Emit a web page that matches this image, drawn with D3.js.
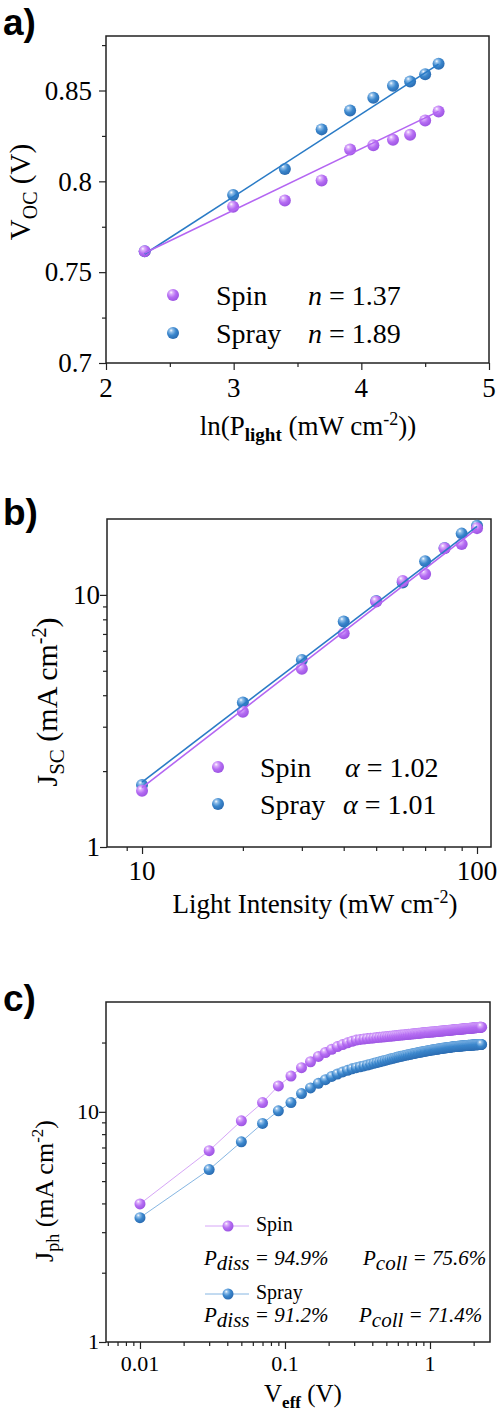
<!DOCTYPE html>
<html><head><meta charset="utf-8">
<script src="https://cdn.jsdelivr.net/npm/d3@7"></script>
<style>
body{margin:0;background:#fff}
svg{display:block}
text{font-family:"Liberation Serif","Times New Roman",serif;fill:#000;white-space:pre}
</style>
</head><body>
<svg id="chart" width="500" height="1415"></svg>
<script>
// ---------- Panel a data ----------
const aLnP = [2.303, 2.996, 3.401, 3.689, 3.912, 4.094, 4.248, 4.382, 4.500, 4.605];
const aSpinVoc = [0.7615, 0.786, 0.7895, 0.8005, 0.8175, 0.8198, 0.8229, 0.8257, 0.8335, 0.8385];
const aSprayVoc = [0.7615, 0.7925, 0.8068, 0.8286, 0.839, 0.846, 0.8526, 0.855, 0.859, 0.8647];
const aSpinFit = [[2.303, 0.7605], [4.605, 0.8385]];
const aSprayFit = [[2.303, 0.7600], [4.605, 0.8645]];
const aXTicks = [2, 3, 4, 5];
const aXMinor = [2.5, 3.5, 4.5];
const aYTicks = [0.7, 0.75, 0.8, 0.85];
const aYMinor = [0.725, 0.775, 0.825, 0.875];
const aLegend = [["Spin", "1.37"], ["Spray", "1.89"]];

// ---------- Panel b data ----------
const bLight = [10, 20, 30, 40, 50, 60, 70, 80, 90, 100];
const bSpinJsc = [1.67, 3.44, 5.09, 7.05, 9.41, 11.36, 12.1, 15.3, 15.9, 18.4];
const bSprayJsc = [1.76, 3.74, 5.52, 7.84, 9.45, 11.2, 13.6, 15.35, 17.5, 18.8];
const bSpinFit = [[10, 1.72], [100, 18.3]];
const bSprayFit = [[10, 1.81], [100, 18.7]];
const bXTicks = [10, 100];
const bXMinor = [9, 20, 30, 40, 50, 60, 70, 80, 90];
const bYTicks = [1, 10];
const bYMinor = [2, 3, 4, 5, 6, 7, 8, 9];
const bLegend = [["Spin", "1.02"], ["Spray", "1.01"]];

// ---------- Panel c data ----------
const cVeff = [0.01,0.03,0.05,0.07,0.09,0.11,0.13,0.15,0.17,0.19,
0.21,0.23,0.25,0.27,0.29,0.31,0.33,0.35,0.37,0.39,
0.41,0.43,0.45,0.47,0.49,0.51,0.53,0.55,0.57,0.59,
0.61,0.63,0.65,0.67,0.69,0.71,0.73,0.75,0.77,0.79,
0.81,0.83,0.85,0.87,0.89,0.91,0.93,0.95,0.97,0.99,
1.01,1.03,1.05,1.07,1.09,1.11,1.13,1.15,1.17,1.19,
1.21,1.23,1.25,1.27,1.29,1.31,1.33,1.35,1.37,1.39,
1.41,1.43,1.45,1.47,1.49,1.51,1.53,1.55,1.57,1.59,
1.61,1.63,1.65,1.67,1.69,1.71,1.73,1.75,1.77,1.79,
1.81,1.83,1.85,1.87,1.89,1.91,1.93,1.95,1.97,1.99,
2.01,2.03,2.05,2.07,2.09,2.11,2.13,2.15,2.17,2.19,
2.21,2.23,2.25,2.27];
const cSpinJph = [3.98,6.78,9.14,10.97,12.96,14.3,15.55,16.5,17.4,18.1,
18.7,19.2,19.6,19.95,20.25,20.5,20.62,20.72,20.80,20.87,
20.95,21.01,21.07,21.13,21.19,21.25,21.30,21.35,21.40,21.45,
21.50,21.54,21.58,21.63,21.67,21.71,21.75,21.78,21.82,21.85,
21.89,21.92,21.96,21.99,22.03,22.06,22.09,22.12,22.14,22.17,
22.20,22.22,22.25,22.27,22.30,22.32,22.35,22.37,22.40,22.42,
22.45,22.47,22.49,22.51,22.53,22.55,22.58,22.60,22.62,22.64,
22.66,22.68,22.70,22.72,22.74,22.76,22.77,22.79,22.81,22.83,
22.85,22.87,22.88,22.90,22.91,22.93,22.95,22.96,22.98,22.99,
23.01,23.02,23.04,23.05,23.07,23.08,23.10,23.11,23.13,23.14,
23.16,23.17,23.19,23.20,23.21,23.23,23.24,23.25,23.26,23.28,
23.29,23.30,23.32,23.33];
const cSprayJph = [3.47,5.61,7.41,8.90,10.1,10.97,12.0,12.7,13.3,13.8,
14.25,14.6,14.9,15.15,15.37,15.55,15.69,15.83,15.97,16.11,
16.25,16.37,16.49,16.61,16.73,16.85,16.95,17.05,17.15,17.25,
17.35,17.42,17.50,17.57,17.65,17.72,17.78,17.84,17.91,17.97,
18.03,18.08,18.14,18.19,18.25,18.30,18.35,18.39,18.44,18.48,
18.53,18.56,18.60,18.63,18.67,18.70,18.74,18.77,18.81,18.84,
18.88,18.90,18.93,18.95,18.98,19.00,19.03,19.05,19.08,19.10,
19.13,19.15,19.16,19.18,19.20,19.21,19.23,19.25,19.26,19.28,
19.30,19.31,19.33,19.34,19.35,19.37,19.38,19.39,19.40,19.42,
19.43,19.44,19.45,19.46,19.47,19.48,19.49,19.50,19.51,19.52,
19.53,19.54,19.54,19.55,19.56,19.57,19.57,19.58,19.59,19.59,
19.60,19.61,19.61,19.62];
const cXTicks = [0.01, 0.1, 1];
const cXMinor = [0.006,0.007,0.008,0.009,0.02,0.03,0.04,0.05,0.06,0.07,0.08,0.09,0.2,0.3,0.4,0.5,0.6,0.7,0.8,0.9,2];
const cYTicks = [1, 10];
const cYMinor = [2,3,4,5,6,7,8,9,20];
const cLegend = [["Spin", "94.9%", "75.6%"], ["Spray", "91.2%", "71.4%"]];

// ---------- setup ----------
const svg = d3.select("#chart");
const defs = svg.append("defs");
function grad(id, light, base, dark) {
  const g = defs.append("radialGradient").attr("id", id)
    .attr("cx", "40%").attr("cy", "36%").attr("r", "68%")
    .attr("fx", "34%").attr("fy", "28%");
  g.append("stop").attr("offset", "0%").attr("stop-color", "#ffffff");
  g.append("stop").attr("offset", "20%").attr("stop-color", light);
  g.append("stop").attr("offset", "55%").attr("stop-color", base);
  g.append("stop").attr("offset", "100%").attr("stop-color", dark);
}
grad("gSpin", "#dcb0fb", "#b56cf3", "#9a52e0");
grad("gSpray", "#93c0ea", "#3b87cd", "#2868ae");
const SPIN_LINE = "#b466f2", SPRAY_LINE = "#2a7bc6";
const SPIN_THIN = "#d6a6f7", SPRAY_THIN = "#86b6e2";

function axes(x, y, o) {
  const g = svg.append("g");
  const [x0, x1] = x.range(), [y0, y1] = y.range();
  const style = s => { s.select(".domain").remove(); s.selectAll("line").attr("stroke", "#222").attr("stroke-width", 1.2); };
  g.append("g").attr("transform", `translate(0,${y0})`).call(d3.axisBottom(x).tickValues(o.xMinor).tickSize(4).tickFormat("")).call(style);
  g.append("g").attr("transform", `translate(0,${y0})`).call(d3.axisBottom(x).tickValues(o.xTicks).tickSize(7).tickFormat("")).call(style);
  g.append("g").attr("transform", `translate(${x0},0)`).call(d3.axisLeft(y).tickValues(o.yMinor).tickSize(4).tickFormat("")).call(style);
  g.append("g").attr("transform", `translate(${x0},0)`).call(d3.axisLeft(y).tickValues(o.yTicks).tickSize(7).tickFormat("")).call(style);
  g.append("rect").attr("x", x0).attr("y", y1).attr("width", x1 - x0).attr("height", y0 - y1)
    .attr("fill", "none").attr("stroke", "#222").attr("stroke-width", 1.5);
  g.selectAll(".xl").data(o.xTicks).join("text").attr("x", d => x(d)).attr("y", o.xLabY)
    .attr("text-anchor", "middle").attr("font-size", o.fs).text(o.xFmt);
  g.selectAll(".yl").data(o.yTicks).join("text").attr("x", o.yLabX).attr("y", d => y(d))
    .attr("dy", "0.34em").attr("text-anchor", "end").attr("font-size", o.fs).text(o.yFmt);
}
function panelLabel(t, yb) {
  svg.append("text").attr("x", 3).attr("y", yb).attr("font-size", 37).attr("font-weight", 700)
    .style("font-family", "'Liberation Sans','Open Sans',sans-serif").text(t);
}
function dots(g, xs, ys, x, y, gid, r) {
  g.selectAll(null).data(xs.map((d, i) => [d, ys[i]])).join("circle")
    .attr("cx", d => x(d[0])).attr("cy", d => y(d[1])).attr("r", r).attr("fill", `url(#${gid})`);
}
function line(g, pts, x, y, color, w) {
  g.append("path").attr("d", d3.line().x(d => x(d[0])).y(d => y(d[1]))(pts))
    .attr("fill", "none").attr("stroke", color).attr("stroke-width", w);
}

// ---------- Panel a ----------
{
  const x = d3.scaleLinear().domain([2, 5]).range([106, 489]);
  const y = d3.scaleLinear().domain([0.7, 0.88]).range([363, 36]);
  panelLabel("a)", 35);
  axes(x, y, {xTicks: aXTicks, xMinor: aXMinor, yTicks: aYTicks, yMinor: aYMinor,
    xFmt: d => d, yFmt: d => d, fs: 27, xLabY: 397, yLabX: 92});
  const g = svg.append("g");
  dots(g, aLnP, aSprayVoc, x, y, "gSpray", 6);
  dots(g, aLnP, aSpinVoc, x, y, "gSpin", 6);
  line(g, aSprayFit, x, y, SPRAY_LINE, 1.6);
  line(g, aSpinFit, x, y, SPIN_LINE, 1.6);
  const lg = svg.append("g");
  aLegend.forEach((d, i) => {
    const cy = 295 + i * 38;
    lg.append("circle").attr("cx", 173).attr("cy", cy).attr("r", 6).attr("fill", i ? "url(#gSpray)" : "url(#gSpin)");
    lg.append("text").attr("x", 216).attr("y", cy + 10).attr("font-size", 28).text(d[0]);
    const t = lg.append("text").attr("x", 308).attr("y", cy + 10).attr("font-size", 28);
    t.append("tspan").attr("font-style", "italic").text("n");
    t.append("tspan").text(" = " + d[1]);
  });
  const xl = svg.append("text").attr("x", 308).attr("y", 435).attr("text-anchor", "middle").attr("font-size", 27);
  xl.append("tspan").text("ln(P");
  xl.append("tspan").attr("font-size", 19).attr("font-weight", 700).attr("dy", 6).text("light");
  xl.append("tspan").attr("dy", -6).text(" (mW cm");
  xl.append("tspan").attr("font-size", 18).attr("dy", -10).text("-2");
  xl.append("tspan").attr("dy", 10).text("))");
  const yl = svg.append("text").attr("transform", "translate(30,192) rotate(-90)").attr("text-anchor", "middle").attr("font-size", 29);
  yl.append("tspan").text("V");
  yl.append("tspan").attr("font-size", 20).attr("dy", 7).text("OC");
  yl.append("tspan").attr("dy", -7).text(" (V)");
}

// ---------- Panel b ----------
{
  const x = d3.scaleLog().domain([7.86, 110.1]).range([107, 491]);
  const y = d3.scaleLog().domain([1, 20]).range([847, 519]);
  panelLabel("b)", 525);
  axes(x, y, {xTicks: bXTicks, xMinor: bXMinor, yTicks: bYTicks, yMinor: bYMinor,
    xFmt: d => d, yFmt: d => d, fs: 27, xLabY: 880, yLabX: 100});
  const g = svg.append("g");
  dots(g, bLight, bSprayJsc, x, y, "gSpray", 6);
  dots(g, bLight, bSpinJsc, x, y, "gSpin", 6);
  line(g, bSprayFit, x, y, SPRAY_LINE, 1.6);
  line(g, bSpinFit, x, y, SPIN_LINE, 1.6);
  const lg = svg.append("g");
  bLegend.forEach((d, i) => {
    const cy = 767 + i * 37;
    lg.append("circle").attr("cx", 218).attr("cy", cy).attr("r", 6).attr("fill", i ? "url(#gSpray)" : "url(#gSpin)");
    lg.append("text").attr("x", 260).attr("y", cy + 10).attr("font-size", 28).text(d[0]);
    const t = lg.append("text").attr("x", i ? 343 : 345).attr("y", cy + 10).attr("font-size", 28);
    t.append("tspan").attr("font-style", "italic").text("α");
    t.append("tspan").text(" = " + d[1]);
  });
  const xl = svg.append("text").attr("x", 315).attr("y", 913).attr("text-anchor", "middle").attr("font-size", 27);
  xl.append("tspan").text("Light Intensity (mW cm");
  xl.append("tspan").attr("font-size", 18).attr("dy", -10).text("-2");
  xl.append("tspan").attr("dy", 10).text(")");
  const yl = svg.append("text").attr("transform", "translate(57,702) rotate(-90)").attr("text-anchor", "middle").attr("font-size", 30);
  yl.append("tspan").text("J");
  yl.append("tspan").attr("font-size", 21).attr("dy", 7).text("SC");
  yl.append("tspan").attr("dy", -7).text(" (mA cm");
  yl.append("tspan").attr("font-size", 20).attr("dy", -11).text("-2");
  yl.append("tspan").attr("dy", 11).text(")");
}

// ---------- Panel c ----------
{
  const x = d3.scaleLog().domain([0.00583, 2.593]).range([106, 490]);
  const y = d3.scaleLog().domain([1, 30]).range([1342, 1002]);
  panelLabel("c)", 1011);
  axes(x, y, {xTicks: cXTicks, xMinor: cXMinor, yTicks: cYTicks, yMinor: cYMinor,
    xFmt: d => d, yFmt: d => d, fs: 22, xLabY: 1371, yLabX: 99});
  const g = svg.append("g");
  const spinPts = cVeff.map((d, i) => [d, cSpinJph[i]]);
  const sprayPts = cVeff.map((d, i) => [d, cSprayJph[i]]);
  line(g, sprayPts, x, y, SPRAY_THIN, 1);
  line(g, spinPts, x, y, SPIN_THIN, 1);
  dots(g, cVeff, cSprayJph, x, y, "gSpray", 5.5);
  dots(g, cVeff, cSpinJph, x, y, "gSpin", 5.5);
  const lg = svg.append("g");
  cLegend.forEach((d, i) => {
    const cy = 1226 + i * 68;
    lg.append("line").attr("x1", 205).attr("x2", 249).attr("y1", cy).attr("y2", cy)
      .attr("stroke", i ? SPRAY_THIN : SPIN_THIN).attr("stroke-width", 1);
    lg.append("circle").attr("cx", 228).attr("cy", cy).attr("r", 5.5).attr("fill", i ? "url(#gSpray)" : "url(#gSpin)");
    lg.append("text").attr("x", 256).attr("y", cy + 5).attr("font-size", 20).text(d[0]);
    const by = cy + 39 - i * 11;
    const t1 = lg.append("text").attr("x", 204).attr("y", by).attr("font-size", 21).attr("font-style", "italic");
    t1.append("tspan").text("P");
    t1.append("tspan").attr("dy", 5).text("diss");
    t1.append("tspan").attr("dy", -5).text(" = " + d[1]);
    const t2 = lg.append("text").attr("x", i ? 359 : 363).attr("y", by).attr("font-size", 21).attr("font-style", "italic");
    t2.append("tspan").text("P");
    t2.append("tspan").attr("dy", 5).text("coll");
    t2.append("tspan").attr("dy", -5).text(" = " + d[2]);
  });
  const xl = svg.append("text").attr("x", 303).attr("y", 1402).attr("text-anchor", "middle").attr("font-size", 25);
  xl.append("tspan").text("V");
  xl.append("tspan").attr("font-size", 17).attr("font-weight", 700).attr("dy", 6).text("eff");
  xl.append("tspan").attr("dy", -6).text(" (V)");
  const yl = svg.append("text").attr("transform", "translate(53,1191) rotate(-90)").attr("text-anchor", "middle").attr("font-size", 26);
  yl.append("tspan").text("J");
  yl.append("tspan").attr("font-size", 18).attr("dy", 6).text("ph");
  yl.append("tspan").attr("dy", -6).text(" (mA cm");
  yl.append("tspan").attr("font-size", 17).attr("dy", -10).text("-2");
  yl.append("tspan").attr("dy", 10).text(")");
}
</script>
</body></html>
